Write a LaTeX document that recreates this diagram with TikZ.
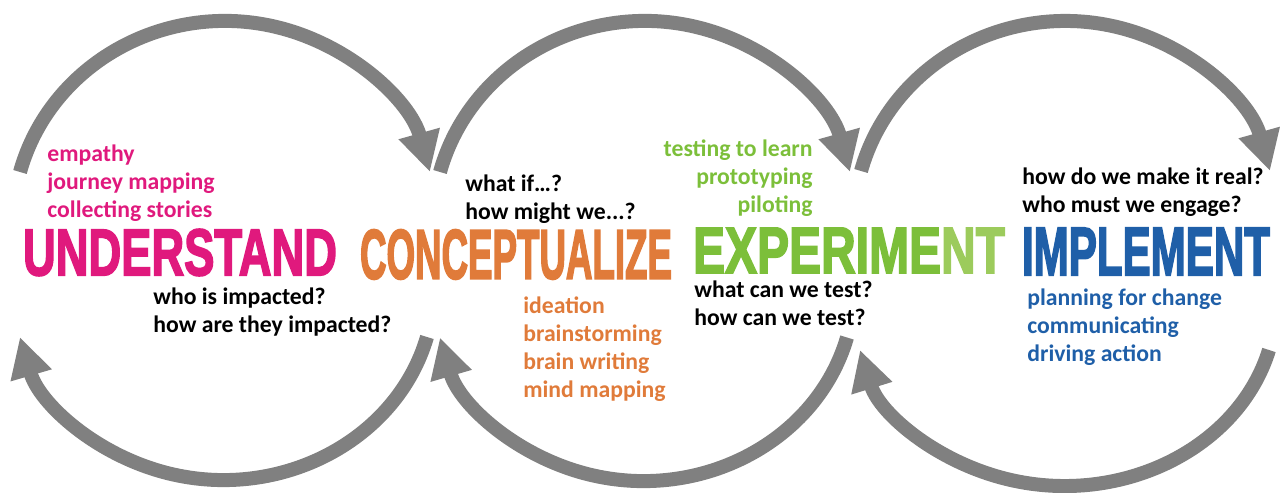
\documentclass[tikz,border=0pt]{standalone}
\usepackage{fontspec}
\usepackage{graphicx}
\setmainfont{Carlito}
\newfontfamily\bannerfont{Liberation Sans}[BoldFeatures={FakeBold=3}]
\usetikzlibrary{arrows.meta}
\definecolor{arrowgray}{HTML}{808080}
\definecolor{understandpink}{HTML}{E0197D}
\definecolor{conceptorange}{HTML}{E07B3A}
\definecolor{experimentgreen}{HTML}{7CBF3A}
\definecolor{experimentlight}{HTML}{9CCB5C}
\definecolor{implementblue}{HTML}{1F5FA8}
\newcommand{\banner}[3]{\resizebox{#1}{#2}{\bannerfont\bfseries #3}}
\tikzset{
  cycle arrow/.style={draw=arrowgray, line width=0.28cm, -{Triangle[length=0.8cm,width=0.8cm]}},
  cycle halo/.style={draw=white, line width=0.4cm, -{Triangle[length=0.9cm,width=0.98cm]}},
  note/.style={font=\fontsize{13.5}{16.1}\selectfont\bfseries, inner sep=0pt, align=left, anchor=base west},
  banner/.style={inner sep=0pt, anchor=center}
}
\begin{document}
\begin{tikzpicture}[x=0.02cm, y=0.02cm]
  \useasboundingbox (0,0) rectangle (1284,493);
  \coordinate (u-top) at (20,321);
  \coordinate (u-bot) at (427,156);
  \coordinate (c-top) at (440,321);
  \coordinate (c-bot) at (847,155.5);
  \coordinate (e-top) at (861,322);
  \coordinate (e-bot) at (1269,143);
  \foreach \from/\sa/\ea/\xr/\yr in {e-top/165/15/211.7/202.4, c-top/165/15/212.2/203.8,
      u-top/165/15/212.2/203.8, u-bot/-15/-165/210.7/193, c-bot/-15/-165/210.7/193.7,
      e-bot/-15/-165/211.7/183.5} {
    \draw[cycle halo] (\from) arc[start angle=\sa, end angle=\ea, x radius=\xr, y radius=\yr];
    \draw[cycle arrow] (\from) arc[start angle=\sa, end angle=\ea, x radius=\xr, y radius=\yr];
  }
  \node[banner, text=understandpink] (understand) at (180,240.5) {\banner{6.28cm}{0.92cm}{UNDERSTAND}};
  \node[banner, text=conceptorange] (conceptualize) at (516,238.5) {\banner{6.24cm}{0.98cm}{CONCEPTUALIZE}};
  \node[banner, text=experimentgreen] (experiment) at (849,242.5) {\banner{6.24cm}{0.9cm}{EXPERIME\textcolor{experimentlight}{NT}}};
  \node[banner, text=implementblue] (implement) at (1146,241.5) {\banner{4.96cm}{0.94cm}{IMPLEMENT}};
  \node[note, text=understandpink] (empathy) at (47,275) {empathy\\journey mapping\\collecting stories};
  \node[note] (impacted) at (153,160) {who is impacted?\\how are they impacted?};
  \node[note] (whatif) at (465,273) {what if…?\\how might we...?};
  \node[note, text=experimentgreen, align=right, anchor=base east] (testing) at (813,280) {testing to learn\\prototyping\\piloting};
  \node[note, text=conceptorange] (ideation) at (523,95) {ideation\\brainstorming\\brain writing\\mind mapping};
  \node[note] (whatcan) at (694,167) {what can we test?\\how can we test?};
  \node[note] (makereal) at (1022,280) {how do we make it real?\\who must we engage?};
  \node[note, text=implementblue] (planning) at (1027,131) {planning for change\\communicating\\driving action};
\end{tikzpicture}
\end{document}
